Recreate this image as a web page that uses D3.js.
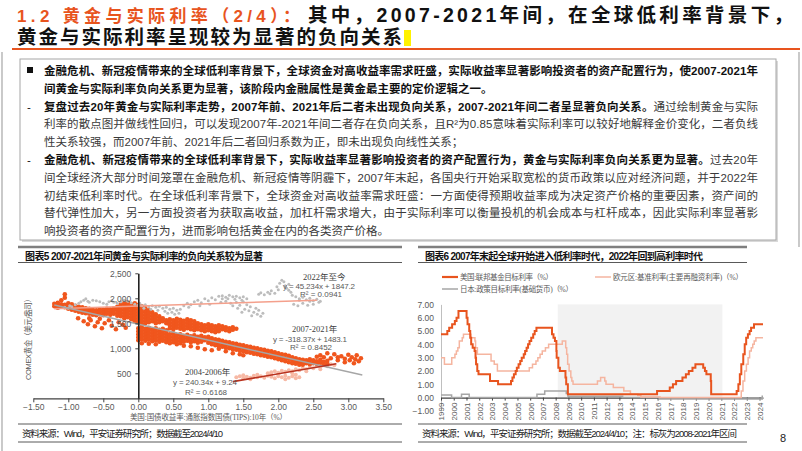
<!DOCTYPE html>
<html><head><meta charset="utf-8">
<script src="https://cdn.jsdelivr.net/npm/d3@7"></script>
<style>body{margin:0;background:#fff;} svg{display:block;}</style>
</head><body><svg id="c" width="802" height="451"></svg>
<script>
// ---------------- DATA ----------------
const titleOrange = "1.2 黄金与实际利率（2/4）：";
const titleBlack = "其中，2007-2021年间，在全球低利率背景下，";
const titleLine2 = "黄金与实际利率呈现较为显著的负向关系";

const bodyMarkers = ["■", "", "-", "", "", "-", "", "", "", ""];
const bodyParts = [
  [["金融危机、新冠疫情带来的全球低利率背景下，全球资金对高收益率需求旺盛，实际收益率显著影响投资者的资产配置行为，使2007-2021年", 1]],
  [["间黄金与实际利率负向关系更为显著，该阶段内金融属性是黄金最主要的定价逻辑之一。", 1]],
  [["复盘过去20年黄金与实际利率走势，2007年前、2021年后二者未出现负向关系，2007-2021年间二者呈显著负向关系。", 1], ["通过绘制黄金与实际", 0]],
  [["利率的散点图并做线性回归，可以发现2007年-2021年间二者存在负向关系，且R²为0.85意味着实际利率可以较好地解释金价变化，二者负线", 0]],
  [["性关系较强，而2007年前、2021年后二者回归系数为正，即未出现负向线性关系；", 0]],
  [["金融危机、新冠疫情带来的全球低利率背景下，实际收益率显著影响投资者的资产配置行为，黄金与实际利率负向关系更为显著。", 1], ["过去20年", 0]],
  [["间全球经济大部分时间笼罩在金融危机、新冠疫情等阴霾下，2007年末起，各国央行开始采取宽松的货币政策以应对经济问题，并于2022年", 0]],
  [["初结束低利率时代。在全球低利率背景下，全球资金对高收益率需求旺盛：一方面使得预期收益率成为决定资产价格的重要因素，资产间的", 0]],
  [["替代弹性加大，另一方面投资者为获取高收益，加杠杆需求增大，由于实际利率可以衡量投机的机会成本与杠杆成本，因此实际利率显著影", 0]],
  [["响投资者的资产配置行为，进而影响包括黄金在内的各类资产价格。", 0]]
];
const bodyJustified = [true, false, true, true, false, true, true, true, true, false];

const chart5Title = "图表5 2007-2021年间黄金与实际利率的负向关系较为显著";
const chart6Title = "图表6 2007年末起全球开始进入低利率时代，2022年回到高利率时代";
const source5 = "资料来源：Wind，平安证券研究所；数据截至2024/4/10";
const source6 = "资料来源：Wind，平安证券研究所；数据截至2024/4/10；注：标灰为2008-2021年区间";
const pageNumber = "8";

// chart 5 : scatter
const tipsTicks = [-1.5, -1, -0.5, 0, 0.5, 1, 1.5, 2, 2.5, 3, 3.5];
const goldTicks = [500, 1000, 1500, 2000, 2500];
const xTitle5 = "美国:国债收益率:通胀指数国债(TIPS):10年（%）";
const yTitle5 = "COMEX黄金（美元/盎司）";

const gold0721 = [
[-1.20,1890],[-1.20,1840],[-1.15,1910],[-1.15,1860],[-1.15,1810],[-1.10,1880],[-1.10,1830],[-1.10,1960],[-1.05,2080],[-1.05,2010],[-1.05,1870],[-1.05,1820],[-1.00,1900],[-1.00,1840],[-1.00,1790],[-0.95,1880],[-0.95,1820],[-0.95,1770],[-0.90,1850],[-0.90,1800],[-0.90,1750],[-0.85,1830],[-0.85,1780],[-0.85,1730],[-0.80,1820],[-0.80,1760],[-0.80,1710],[-0.75,1800],[-0.75,1750],[-0.75,1700],[-0.70,1790],[-0.70,1740],[-0.70,1690],[-0.65,1770],[-0.65,1720],[-0.65,1670],[-0.60,1760],[-0.60,1710],[-0.60,1660],[-0.55,1780],[-0.55,1730],[-0.55,1680],[-0.50,1770],[-0.50,1720],[-0.50,1660],[-0.45,1790],[-0.45,1740],[-0.45,1690],[-0.40,1780],[-0.40,1730],[-0.40,1670],[-0.35,1800],[-0.35,1750],[-0.35,1690],[-0.30,1830],[-0.30,1770],[-0.30,1710],[-0.30,1650],
[-0.86,1600],[-0.78,1540],[-0.72,1480],[-0.70,1600],[-0.68,1560],[-0.62,1440],[-0.58,1520],[-0.55,1590],[-0.52,1400],[-0.48,1500],[-0.42,1560],[-0.38,1450],[-0.32,1380],[-0.28,1520],[-0.22,1470],[-0.18,1410],
[-0.25,1880],[-0.25,1820],[-0.25,1760],[-0.25,1700],[-0.25,1640],
[-0.20,1900],[-0.20,1840],[-0.20,1780],[-0.20,1720],[-0.20,1660],[-0.20,1600],
[-0.15,1920],[-0.15,1860],[-0.15,1800],[-0.15,1740],[-0.15,1680],[-0.15,1620],
[-0.10,1880],[-0.10,1820],[-0.10,1760],[-0.10,1700],[-0.10,1640],[-0.10,1580],
[-0.05,1900],[-0.05,1840],[-0.05,1780],[-0.05,1720],[-0.05,1660],[-0.05,1600],[-0.05,1540],
[0.00,1870],[0.00,1810],[0.00,1750],[0.00,1690],[0.00,1630],[0.00,1570],[0.00,1510],
[0.05,1840],[0.05,1780],[0.05,1720],[0.05,1660],[0.05,1600],[0.05,1540],[0.05,1480],
[0.10,1800],[0.10,1740],[0.10,1680],[0.10,1620],[0.10,1560],[0.10,1500],
[0.15,1760],[0.15,1700],[0.15,1640],[0.15,1580],[0.15,1520],
[0.20,1720],[0.20,1660],[0.20,1600],[0.20,1540],
[0.25,1680],[0.25,1620],[0.25,1560],[0.25,1500],
[0.30,1640],[0.30,1580],[0.30,1520],
[0.35,1600],[0.35,1540],[0.40,1560],[0.40,1500],
[0.45,1580],[0.45,1520],[0.45,1460],[0.45,1400],
[0.50,1560],[0.50,1500],[0.50,1440],[0.50,1380],
[0.55,1590],[0.55,1530],[0.55,1470],[0.55,1410],
[0.60,1570],[0.60,1510],[0.60,1450],[0.60,1390],
[0.65,1550],[0.65,1490],[0.65,1430],[0.65,1370],
[0.70,1580],[0.70,1520],[0.70,1460],[0.70,1400],
[0.75,1560],[0.75,1500],[0.75,1440],[0.75,1380],
[0.80,1540],[0.80,1480],[0.80,1420],[0.80,1360],
[0.85,1500],[0.85,1440],[0.85,1380],[0.90,1480],[0.90,1420],[0.90,1360],
[0.95,1460],[0.95,1400],[0.95,1340],[1.00,1480],[1.00,1420],[1.00,1360],
[1.05,1460],[1.05,1400],[1.05,1340],[1.10,1440],[1.10,1380],[1.10,1320],
[1.15,1460],[1.15,1400],[1.15,1340],[1.20,1440],[1.20,1380],
[1.25,1420],[1.25,1360],[1.30,1400],[1.30,1340],[1.35,1420],[1.35,1370],[1.40,1390],
[0.00,1400],[0.00,1340],[0.00,1280],[0.00,1220],[0.00,1160],
[0.05,1420],[0.05,1360],[0.05,1300],[0.05,1240],[0.05,1180],[0.05,1100],
[0.10,1390],[0.10,1330],[0.10,1270],[0.10,1210],[0.10,1150],
[0.15,1410],[0.15,1350],[0.15,1290],[0.15,1230],[0.15,1170],[0.15,1090],
[0.20,1380],[0.20,1320],[0.20,1260],[0.20,1200],[0.20,1140],
[0.25,1400],[0.25,1340],[0.25,1280],[0.25,1220],[0.25,1160],[0.25,1080],
[0.30,1370],[0.30,1310],[0.30,1250],[0.30,1190],[0.30,1130],
[0.35,1390],[0.35,1330],[0.35,1270],[0.35,1210],[0.35,1150],
[0.40,1360],[0.40,1300],[0.40,1240],[0.40,1180],[0.40,1120],
[0.45,1280],[0.45,1220],[0.45,1160],[0.45,1100],
[0.50,1300],[0.50,1240],[0.50,1180],[0.50,1120],
[0.55,1260],[0.55,1200],[0.55,1140],[0.55,1080],
[0.60,1280],[0.60,1220],[0.60,1160],[0.60,1100],
[0.65,1250],[0.65,1190],[0.65,1130],[0.70,1270],[0.70,1210],[0.70,1150],
[0.75,1240],[0.75,1180],[0.75,1120],[0.80,1260],[0.80,1200],[0.80,1140],
[0.85,1230],[0.85,1170],[0.85,1110],[0.90,1250],[0.90,1190],[0.90,1130],
[0.95,1220],[0.95,1160],[1.00,1230],[1.00,1170],[1.00,1110],
[1.05,1200],[1.05,1140],[1.05,1080],[1.10,1180],[1.10,1120],[1.10,1060],
[1.15,1170],[1.15,1110],[1.15,1050],[1.20,1150],[1.20,1090],[1.20,1030],
[1.25,1130],[1.25,1070],[1.25,1010],[1.30,1120],[1.30,1060],[1.30,1000],
[1.35,1100],[1.35,1040],[1.35,980],[1.40,1090],[1.40,1030],[1.40,970],
[1.45,1070],[1.45,1010],[1.45,950],[1.50,1060],[1.50,1000],[1.50,940],
[1.55,1040],[1.55,980],[1.55,920],[1.60,1030],[1.60,970],[1.60,910],
[1.65,1010],[1.65,950],[1.65,890],[1.70,1000],[1.70,940],[1.70,880],
[1.75,980],[1.75,920],[1.75,860],[1.80,970],[1.80,910],[1.80,850],
[1.85,950],[1.85,890],[1.85,830],[1.90,940],[1.90,880],[1.90,820],
[1.95,920],[1.95,860],[1.95,800],[2.00,900],[2.00,840],[2.00,780],
[2.05,880],[2.05,820],[2.05,760],[2.10,870],[2.10,800],[2.10,740],
[2.15,850],[2.15,790],[2.15,720],[2.20,820],[2.20,760],[2.20,700],
[2.25,800],[2.25,740],[2.25,690],[2.30,780],[2.30,720],[2.30,670],
[2.35,770],[2.35,710],[2.35,670],[2.40,760],[2.40,700],[2.45,780],[2.45,720],[2.45,680],
[2.50,760],[2.50,700],[2.55,740],[2.55,690],[2.60,770],[2.60,710],[2.65,730],[2.65,680],[2.70,750],[2.70,690],
[2.60,860],[2.65,820],[2.75,800],[2.80,880],[2.85,760],[2.90,840],[2.95,790],[3.00,870],[3.02,760],[3.05,820],[3.10,780],[3.12,860],[3.15,740],[3.18,800],[2.55,830],[2.70,900],[2.85,820],[2.95,720],[3.08,700],
[0.65,1050],[0.75,1040],[0.85,1010],[0.95,980],[1.05,960],[1.15,990],[1.25,940],[1.35,900],[1.45,880],[1.50,860]
];

const gold22now = [
[-1.05,1820],[-1.00,1800],[-0.98,1850],[-0.95,1830],[-0.90,1870],[-0.85,1900],[-0.82,1930],[-0.78,1960],[-0.75,1990],[-0.72,1940],[-0.70,1920],[-0.65,1960],[-0.60,1950],[-0.55,1930],[-0.50,1900],[-0.45,1880],[-0.42,1930],[-0.38,1950],[-0.35,1920],[-0.30,1900],[-0.25,1930],[-0.20,1960],[-0.15,1940],[-0.10,1910],[-0.05,1880],[0.00,1860],[0.02,1900],
[0.05,1850],[0.08,1800],[0.10,1870],[0.15,1830],[0.18,1780],[0.20,1850],[0.25,1820],[0.28,1760],[0.30,1840],[0.35,1800],[0.38,1740],[0.40,1820],[0.45,1780],[0.48,1720],[0.50,1800],[0.55,1760],[0.58,1700],[0.60,1780],[0.42,1700],[0.52,1680],
[0.65,1850],[0.70,1900],[0.75,1870],[0.80,1930],[0.85,1960],[0.90,1910],[0.95,1990],[1.00,1950],[1.05,2010],[1.10,1970],[1.15,2040],[1.20,1990],[0.72,1820],[0.88,1850],[1.02,1880],[1.18,1920],
[1.20,2050],[1.25,2020],[1.28,1990],[1.30,2060],[1.35,2030],[1.38,1980],[1.40,2040],[1.45,2010],[1.48,1960],[1.50,2030],[1.55,1990],[1.25,1940],[1.32,1900],[1.40,1920],[1.50,1930],[1.35,1850],[1.45,1860],[1.42,1800],[1.52,1780],[1.55,1870],[1.60,1830],[1.58,1750],[1.65,1720],[1.70,1680],[1.72,1760],[1.75,1640],[1.78,1700],[1.62,1650],[1.68,1800],[1.48,1720],
[1.72,2080],[1.75,2110],[1.80,2070],[1.85,2120],[1.88,2090],[1.90,2150],[1.95,2100],[2.00,2170],[2.02,2300],[2.05,2360],[2.08,2330],[2.10,2250],[2.12,2200],[2.15,2160],[2.18,2120],[2.20,2060],[2.25,2030],[2.30,1990],[2.35,2020],[2.40,1970],[2.45,2000],[2.50,1950],[2.55,1980],[2.60,1940],[2.22,1880],[2.28,1850],[2.35,1900],[2.42,1860],[2.50,1880],[2.58,1920],[2.30,1960],[2.45,1940],[1.98,2230],[2.15,2280]
];

const gold0406 = [
[1.40,420],[1.45,440],[1.50,400],[1.55,430],[1.60,410],[1.65,450],[1.70,420],[1.75,440],[1.80,410],[1.85,450],[1.90,430],[1.95,400],[2.00,440],[2.05,420],[2.10,450],[2.15,410],[2.20,440],[2.25,400],[2.30,420],[1.50,460],[1.70,470],[1.90,480],[2.10,380],[1.60,380],[2.25,470],
[1.85,500],[1.90,520],[1.95,540],[2.00,510],[2.05,550],[2.10,530],[2.15,560],[2.20,540],[2.25,580],[2.30,560],[2.35,600],[2.40,580],[2.45,620],[2.50,600],[2.55,640],[2.60,620],[2.65,660],[2.70,640],[2.75,680],[2.80,660],[2.20,500],[2.40,540],[2.60,580],[2.00,480]
];

// regression lines (from the chart's equations) and their x-extent
const fits = [
  {name: "2022年至今", slope: 45.234, intercept: 1847.2, r2: "0.0941", from: -1.2, to: 2.55},
  {name: "2007-2021年", slope: -318.37, intercept: 1483.1, r2: "0.8452", from: -1.2, to: 3.2},
  {name: "2004-2006年", slope: 240.34, intercept: 9.24, r2: "0.6168", from: 1.35, to: 2.83}
];
const fitEquations = ["y = 45.234x + 1847.2", "y = -318.37x + 1483.1", "y = 240.34x + 9.24"];

// chart 6 : policy rates
const rateTicks = [-1, 0, 1, 2, 3, 4, 5, 6, 7];
const rateSeriesNames = ["美国:联邦基金目标利率（%）", "欧元区:基准利率(主要再融资利率)（%）", "日本:政策目标利率(基础货币)（%）"];
const shadeRange = ["2008-03-01", "2021-02-01"];
const dateRange = ["1999-01-01", "2024-04-10"];
const usRate = [["1999-01-01",4.75],["1999-07-01",5.00],["1999-08-24",5.25],["1999-11-16",5.50],["2000-02-02",5.75],["2000-03-21",6.00],["2000-05-16",6.50],["2001-01-03",6.00],["2001-01-31",5.50],["2001-03-20",5.00],["2001-04-18",4.50],["2001-05-15",4.00],["2001-06-27",3.75],["2001-08-21",3.50],["2001-09-17",3.00],["2001-10-02",2.50],["2001-11-06",2.00],["2001-12-11",1.75],["2002-11-06",1.25],["2003-06-25",1.00],["2004-06-30",1.25],["2004-08-10",1.50],["2004-09-21",1.75],["2004-11-10",2.00],["2004-12-14",2.25],["2005-02-02",2.50],["2005-03-22",2.75],["2005-05-03",3.00],["2005-06-30",3.25],["2005-08-09",3.50],["2005-09-20",3.75],["2005-11-01",4.00],["2005-12-13",4.25],["2006-01-31",4.50],["2006-03-28",4.75],["2006-05-10",5.00],["2006-06-29",5.25],["2007-09-18",4.75],["2007-10-31",4.50],["2007-12-11",4.25],["2008-01-22",3.50],["2008-01-30",3.00],["2008-03-18",2.25],["2008-04-30",2.00],["2008-10-08",1.50],["2008-10-29",1.00],["2008-12-16",0.25],["2015-12-17",0.50],["2016-12-15",0.75],["2017-03-16",1.00],["2017-06-15",1.25],["2017-12-14",1.50],["2018-03-22",1.75],["2018-06-14",2.00],["2018-09-27",2.25],["2018-12-20",2.50],["2019-08-01",2.25],["2019-09-19",2.00],["2019-10-31",1.75],["2020-03-04",1.25],["2020-03-16",0.25],["2022-03-17",0.50],["2022-05-05",1.00],["2022-06-16",1.75],["2022-07-28",2.50],["2022-09-22",3.25],["2022-11-03",4.00],["2022-12-15",4.50],["2023-02-02",4.75],["2023-03-23",5.00],["2023-05-04",5.25],["2023-07-27",5.50],["2024-04-10",5.50]];
const euRate = [["1999-01-01",3.00],["1999-04-09",2.50],["1999-11-05",3.00],["2000-02-04",3.25],["2000-03-17",3.50],["2000-04-28",3.75],["2000-06-09",4.25],["2000-09-01",4.50],["2000-10-06",4.75],["2001-05-11",4.50],["2001-08-31",4.25],["2001-09-18",3.75],["2001-11-09",3.25],["2002-12-06",2.75],["2003-03-07",2.50],["2003-06-06",2.00],["2005-12-06",2.25],["2006-03-08",2.50],["2006-06-15",2.75],["2006-08-09",3.00],["2006-10-11",3.25],["2006-12-13",3.50],["2007-03-14",3.75],["2007-06-13",4.00],["2008-07-09",4.25],["2008-10-15",3.75],["2008-11-12",3.25],["2008-12-10",2.50],["2009-01-21",2.00],["2009-03-11",1.50],["2009-04-08",1.25],["2009-05-13",1.00],["2011-04-13",1.25],["2011-07-13",1.50],["2011-11-09",1.25],["2011-12-14",1.00],["2012-07-11",0.75],["2013-05-08",0.50],["2013-11-13",0.25],["2014-06-11",0.15],["2014-09-10",0.05],["2016-03-16",0.00],["2022-07-27",0.50],["2022-09-14",1.25],["2022-11-02",2.00],["2022-12-21",2.50],["2023-02-08",3.00],["2023-03-22",3.50],["2023-05-10",3.75],["2023-06-21",4.00],["2023-08-02",4.25],["2023-09-20",4.50],["2024-04-10",4.50]];
const jpRate = [["1999-01-01",0.20],["1999-11-01",0.00],["2000-08-11",0.25],["2001-03-19",0.00],["2006-07-14",0.25],["2007-02-21",0.50],["2008-10-31",0.30],["2008-12-19",0.10],["2013-04-04",0.00],["2016-02-16",-0.10],["2024-03-19",0.10],["2024-04-10",0.10]];

// ---------------- DRAWING ----------------
const svg = d3.select("#c");
const SANS = "'Liberation Sans', Arial, 'Noto Sans CJK SC', sans-serif";
const SERIF = "'Liberation Serif', 'Noto Sans CJK SC', serif";
const ORANGE = "#E8541E";

svg.append("rect").attr("width", 802).attr("height", 451).attr("fill", "#fff");

// frame lines
svg.append("line").attr("x1", 2).attr("x2", 2).attr("y1", 52).attr("y2", 451).attr("stroke", "#A6A6A6").attr("stroke-width", 1.2);
svg.append("line").attr("x1", 799).attr("x2", 799).attr("y1", 52).attr("y2", 247).attr("stroke", "#A6A6A6").attr("stroke-width", 1.2);

// title
svg.append("text").attr("x", 17).attr("y", 22).attr("font-family", SANS).attr("font-size", 17).attr("font-weight", 700)
  .attr("fill", ORANGE).attr("textLength", 283).attr("lengthAdjust", "spacing").text(titleOrange);
svg.append("text").attr("x", 308).attr("y", 22).attr("font-family", SANS).attr("font-size", 19.5).attr("font-weight", 700)
  .attr("fill", "#111").attr("textLength", 485).attr("lengthAdjust", "spacing").text(titleBlack);
svg.append("text").attr("x", 17).attr("y", 44).attr("font-family", SANS).attr("font-size", 19.5).attr("font-weight", 700)
  .attr("fill", "#111").attr("textLength", 385).attr("lengthAdjust", "spacing").text(titleLine2);
svg.append("rect").attr("x", 404).attr("y", 30).attr("width", 7).attr("height", 16).attr("fill", "#FFF200");
svg.append("line").attr("x1", 12).attr("x2", 800).attr("y1", 49).attr("y2", 49).attr("stroke", ORANGE).attr("stroke-width", 1.8);

// text box
svg.append("rect").attr("x", 22).attr("y", 61).attr("width", 756).attr("height", 181).attr("fill", "#D9D9D9");
svg.append("rect").attr("x", 20).attr("y", 59).attr("width", 756).attr("height", 181).attr("fill", "#fff").attr("stroke", "#A6A6A6").attr("stroke-width", 1);
bodyParts.forEach((parts, i) => {
  const y = 75 + i * 17.8;
  if (bodyMarkers[i] === "■") {
    svg.append("rect").attr("x", 27).attr("y", y - 8).attr("width", 6).attr("height", 6).attr("fill", "#111");
  } else if (bodyMarkers[i] === "-") {
    svg.append("text").attr("x", 27).attr("y", y).attr("font-family", SANS).attr("font-size", 11.5).attr("fill", "#111").text("-");
  }
  const t = svg.append("text").attr("x", 44).attr("y", y).attr("font-family", SANS).attr("font-size", 11.5);
  if (bodyJustified[i]) t.attr("textLength", 714).attr("lengthAdjust", "spacing");
  parts.forEach(p => {
    t.append("tspan").attr("font-weight", p[1] ? 700 : 400).attr("fill", p[1] ? "#111" : "#3a3a3a").text(p[0]);
  });
});

// panel frames
function panel(x0, x1, title, titleLen, source, sourceLen) {
  svg.append("line").attr("x1", x0).attr("x2", x1).attr("y1", 247).attr("y2", 247).attr("stroke", "#7F7F7F").attr("stroke-width", 2.5);
  svg.append("line").attr("x1", x0).attr("x2", x1).attr("y1", 262.5).attr("y2", 262.5).attr("stroke", "#595959").attr("stroke-width", 1);
  svg.append("line").attr("x1", x0).attr("x2", x1).attr("y1", 424).attr("y2", 424).attr("stroke", "#595959").attr("stroke-width", 1);
  svg.append("line").attr("x1", x0).attr("x2", x1).attr("y1", 442).attr("y2", 442).attr("stroke", "#595959").attr("stroke-width", 1);
  svg.append("text").attr("x", x0 + 7).attr("y", 259.5).attr("font-family", SANS).attr("font-size", 10).attr("font-weight", 700)
    .attr("fill", "#111").attr("textLength", titleLen).attr("lengthAdjust", "spacing").text(title);
  svg.append("text").attr("x", x0 + 4).attr("y", 436.5).attr("font-family", SANS).attr("font-size", 9.5)
    .attr("fill", "#222").attr("textLength", sourceLen).attr("lengthAdjust", "spacing").text(source);
}
panel(18, 402, chart5Title, 238, source5, 201);
panel(418, 747, chart6Title, 278, source6, 315);
svg.append("text").attr("x", 780).attr("y", 442).attr("font-family", SANS).attr("font-size", 11).attr("fill", "#222").text(pageNumber);

// ---------- chart 5 ----------
const xL = d3.scaleLinear().domain([-1.5, 3.5]).range([33.3, 383.3]);
const yL = d3.scaleLinear().domain([0, 2500]).range([398.3, 273.3]);
const g5 = svg.append("g");

g5.append("g").selectAll("circle").data(gold0406).join("circle")
  .attr("cx", d => xL(d[0])).attr("cy", d => yL(d[1])).attr("r", 2).attr("fill", "#F7B9A5");
g5.append("g").selectAll("circle").data(gold0721).join("circle")
  .attr("cx", d => xL(d[0])).attr("cy", d => yL(d[1])).attr("r", 2.3).attr("fill", "#F0561D");
g5.append("g").selectAll("circle").data(gold22now).join("circle")
  .attr("cx", d => xL(d[0])).attr("cy", d => yL(d[1])).attr("r", 1.5).attr("fill", "#BDBDBD");

const fitColors = ["#F4A08C", "#A6A6A6", "#B8321F"];
g5.append("g").selectAll("line").data(fits).join("line")
  .attr("x1", d => xL(d.from)).attr("y1", d => yL(d.slope * d.from + d.intercept))
  .attr("x2", d => xL(d.to)).attr("y2", d => yL(d.slope * d.to + d.intercept))
  .attr("stroke", (d, i) => fitColors[i]).attr("stroke-width", (d, i) => i === 2 ? 1.6 : 1.5);

// axes
const ax5 = g5.append("g").attr("transform", `translate(0,${yL(0)})`)
  .call(d3.axisBottom(xL).tickValues(tipsTicks).tickFormat(d3.format(".2f")).tickSize(4).tickSizeOuter(0).tickPadding(2));
ax5.select(".domain").attr("stroke", "#404040").attr("stroke-width", 1.2);
ax5.selectAll(".tick line").attr("stroke", "#404040");
ax5.selectAll("text").attr("font-family", SANS).attr("font-size", 8.5).attr("fill", "#595959");
const ay5 = g5.append("g").attr("transform", `translate(${xL(0)},0)`)
  .call(d3.axisLeft(yL).tickValues(goldTicks).tickFormat(d3.format(",")).tickSize(3).tickSizeOuter(0).tickPadding(4));
ay5.select(".domain").attr("stroke", "#222").attr("stroke-width", 1.6);
ay5.selectAll(".tick line").attr("stroke", "#404040");
ay5.selectAll("text").attr("font-family", SANS).attr("font-size", 8.5).attr("fill", "#595959");

g5.append("text").attr("x", 130).attr("y", 419.5).attr("font-family", SERIF).attr("font-size", 7.5).attr("fill", "#595959")
  .attr("textLength", 157).attr("lengthAdjust", "spacing").text(xTitle5);
g5.append("text").attr("transform", "translate(31,380) rotate(-90)").attr("font-family", SANS).attr("font-size", 7.5).attr("fill", "#595959")
  .attr("textLength", 85).attr("lengthAdjust", "spacing").text(yTitle5);

// annotations
const annPos = [
  {nx: 303, ny: 279.5, ex: 283, ey: 288.5, el: 72, rx: 300, ry: 296.5},
  {nx: 292, ny: 331.5, ex: 273, ey: 341.5, el: 74, rx: 290, ry: 349.5},
  {nx: 185, ny: 374.5, ex: 173, ey: 384.5, el: 64, rx: 185, ry: 395}
];
fits.forEach((f, i) => {
  const p = annPos[i];
  g5.append("text").attr("x", p.nx).attr("y", p.ny).attr("font-family", SERIF).attr("font-size", 8.5).attr("fill", "#404040").text(f.name);
  g5.append("text").attr("x", p.ex).attr("y", p.ey).attr("font-family", SANS).attr("font-size", 8).attr("fill", "#595959")
    .attr("textLength", p.el).attr("lengthAdjust", "spacing").text(fitEquations[i]);
  g5.append("text").attr("x", p.rx).attr("y", p.ry).attr("font-family", SANS).attr("font-size", 8).attr("fill", "#595959").text("R² = " + f.r2);
});

// ---------- chart 6 ----------
const parse = d3.timeParse("%Y-%m-%d");
const xR = d3.scaleTime().domain(dateRange.map(parse)).range([441, 763]);
const yR = d3.scaleLinear().domain([-1, 7]).range([410.9, 304.4]);
const g6 = svg.append("g");

g6.append("rect").attr("x", xR(parse(shadeRange[0]))).attr("y", yR(7))
  .attr("width", xR(parse(shadeRange[1])) - xR(parse(shadeRange[0]))).attr("height", yR(0) - yR(7)).attr("fill", "#F2F2F2");

const ay6 = g6.append("g").attr("transform", "translate(441,0)")
  .call(d3.axisLeft(yR).tickValues(rateTicks).tickFormat(d3.format(".2f")).tickSize(0).tickPadding(7));
ay6.select(".domain").attr("stroke", "#BFBFBF");
ay6.selectAll("text").attr("font-family", SANS).attr("font-size", 8.5).attr("fill", "#595959");

const ax6 = g6.append("g").attr("transform", `translate(0,${yR(0)})`)
  .call(d3.axisBottom(xR).ticks(d3.timeYear.every(1)).tickFormat(d3.timeFormat("%Y")).tickSize(3).tickSizeOuter(0));
ax6.select(".domain").attr("stroke", "#404040").attr("stroke-width", 1.2);
ax6.selectAll(".tick line").attr("stroke", "#404040");
ax6.selectAll("text").attr("font-family", SANS).attr("font-size", 8).attr("fill", "#595959")
  .attr("transform", "rotate(-90)").attr("x", -5).attr("y", 0).attr("dy", "0.35em").style("text-anchor", "end");

const line = d3.line().x(d => xR(parse(d[0]))).y(d => yR(d[1])).curve(d3.curveStepAfter);
const rateColors = [ORANGE, "#F5B5A0", "#A6A6A6"];
const rateWidths = [2, 1.5, 1.5];
[jpRate, euRate, usRate].forEach((s, k) => {
  const i = 2 - k;
  g6.append("path").datum(s).attr("d", line).attr("fill", "none").attr("stroke", rateColors[i]).attr("stroke-width", rateWidths[i]);
});

// legend
const legPos = [{x: 442, y: 277, tl: 93}, {x: 595, y: 277, tl: 130}, {x: 442, y: 289, tl: 113}];
rateSeriesNames.forEach((n, i) => {
  const p = legPos[i];
  g6.append("line").attr("x1", p.x).attr("x2", p.x + 16).attr("y1", p.y).attr("y2", p.y).attr("stroke", rateColors[i]).attr("stroke-width", i === 0 ? 2.2 : 1.5);
  g6.append("text").attr("x", p.x + 18).attr("y", p.y + 2.8).attr("font-family", SERIF).attr("font-size", 7.5).attr("fill", "#595959")
    .attr("textLength", p.tl).attr("lengthAdjust", "spacing").text(n);
});
</script></body></html>
